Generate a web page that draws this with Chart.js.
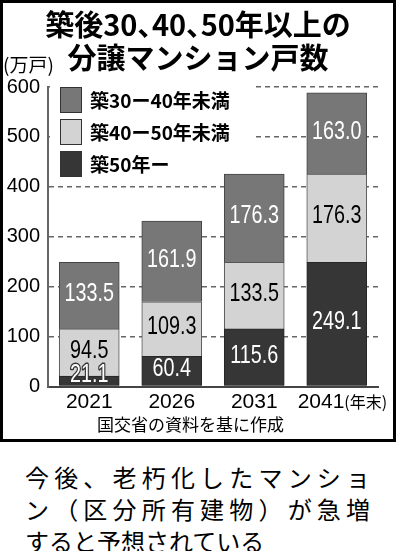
<!DOCTYPE html>
<html>
<head>
<meta charset="utf-8">
<script src="https://cdn.jsdelivr.net/npm/chart.js@4.4.0/dist/chart.umd.min.js"></script>
<style>
html,body{margin:0;padding:0;background:#fff;}
body{width:397px;height:551px;position:relative;overflow:hidden;font-family:"Noto Sans CJK JP",sans-serif;color:#000;}
#frame{position:absolute;left:0;top:0;width:396px;height:442px;box-sizing:border-box;border:3px solid #000;}
#wrap{position:absolute;left:0;top:0;width:390px;height:436px;}
#title{position:absolute;left:0;top:4px;width:390px;text-align:center;font-weight:700;font-size:29px;line-height:33px;white-space:nowrap;}
#title .p{font-feature-settings:"palt";}
#legend{position:absolute;left:47px;top:83px;width:202px;height:87px;background:#fff;}
.sw{position:absolute;left:10px;width:22px;height:26px;box-sizing:border-box;border:1px solid #333;}
.lt{position:absolute;left:40px;font-weight:700;font-size:19px;line-height:26px;white-space:nowrap;}
#caption{position:absolute;left:25px;top:461px;width:345px;font-size:24px;line-height:32px;}
#caption div{text-align:justify;text-align-last:justify;white-space:nowrap;}
#caption div.last{text-align-last:left;}
</style>
</head>
<body>
<div id="frame">
  <div id="wrap"><canvas id="chart"></canvas></div>
  <div id="title"></div>
  <div id="legend"></div>
</div>
<div id="caption">
  <div>今後、老朽化したマンショ</div>
  <div>ン（区分所有建物）が急増</div>
  <div class="last">すると予想されている</div>
</div>
<script>
/* ---------- DATA ---------- */
const years      = ['2021','2026','2031','2041'];
const over50     = [21.1, 60.4, 115.6, 249.1];   // 築50年ー
const age40to50  = [94.5, 109.3, 133.5, 176.3];  // 築40ー50年未満
const age30to40  = [133.5, 161.9, 176.3, 163.0]; // 築30ー40年未満
const yTicks     = [0,100,200,300,400,500,600];
const titleLines = ['築後30、40、50年以上の','分譲マンション戸数'];

const JP = '"Noto Sans CJK JP", sans-serif';
const NUM = '"Liberation Sans", Arial, sans-serif';

const $ = id => document.getElementById(id);

/* ---------- TITLE (commas set proportional like the print) ---------- */
$('title').innerHTML=titleLines.map(t=>t.replace(/、/g,'<span class="p">、</span>')).join('<br>');

/* ---------- DATASETS (bottom to top) ---------- */
const datasets = [
  {label:'築50年ー',      data:over50,    backgroundColor:'#363636', borderColor:'#262626', valueColor:'#fff'},
  {label:'築40ー50年未満', data:age40to50, backgroundColor:'#d3d3d3', borderColor:'#555',    valueColor:'#000'},
  {label:'築30ー40年未満', data:age30to40, backgroundColor:'#777777', borderColor:'#444',    valueColor:'#fff'}
].map(d=>({...d,borderWidth:1,barThickness:60}));

/* ---------- LEGEND (top item = top segment) ---------- */
$('legend').innerHTML=[...datasets].reverse().map((d,i)=>
  `<div class="sw" style="top:${1+i*32}px;background:${d.backgroundColor}"></div>`+
  `<div class="lt" style="top:${1+i*32}px">${d.label}</div>`).join('');

/* ---------- PLUGINS ---------- */
const valueLabels = {
  id:'valueLabels',
  afterDatasetsDraw(chart){
    const {ctx}=chart;
    ctx.save();
    ctx.font=`26px ${NUM}`;
    ctx.textAlign='center';ctx.textBaseline='middle';
    chart.data.datasets.forEach((ds,i)=>{
      chart.getDatasetMeta(i).data.forEach((bar,j)=>{
        const txt=ds.data[j].toFixed(1);
        const h=bar.base-bar.y;
        let y=(bar.y+bar.base)/2-2;
        ctx.save();
        if(h<22) y=bar.base-11;
        ctx.translate(bar.x,y);ctx.scale(0.76,1);   // condensed figures
        if(h<22){
          ctx.lineWidth=3;ctx.strokeStyle='#333';ctx.lineJoin='round';
          ctx.strokeText(txt,0,0);
        }
        ctx.fillStyle=ds.valueColor;
        ctx.fillText(txt,0,0);
        ctx.restore();
      });
    });
    ctx.restore();
  }
};

const extraText = {
  id:'extraText',
  afterDraw(chart){
    const {ctx,chartArea,scales:{x}}=chart;
    ctx.save();
    ctx.fillStyle='#000';ctx.textBaseline='middle';ctx.textAlign='left';
    ctx.font=`19px ${JP}`;
    ctx.fillText('(万戸)',0,chartArea.top-22);
    // (年末) after last year label
    ctx.font=`21px ${NUM}`;
    const last=years.length-1;
    const full=ctx.measureText(x.options.ticks.callback(years[last],last)).width;
    const yw=ctx.measureText(years[last]).width;
    const sx=x.getPixelForTick(last)-full/2+yw;
    ctx.font=`16px ${JP}`;
    ctx.fillText('(年末)',sx,x.top+3+12.6);
    ctx.restore();
  }
};

/* ---------- CHART ---------- */
new Chart($('chart').getContext('2d'),{
  type:'bar',
  data:{labels:years,datasets},
  options:{
    responsive:true,maintainAspectRatio:false,animation:false,
    layout:{padding:{left:0,right:15,top:84,bottom:0}},
    plugins:{
      legend:{display:false},
      tooltip:{enabled:false},
      subtitle:{display:true,position:'bottom',text:'国交省の資料を基に作成',color:'#000',
        font:{family:JP,size:17,lineHeight:1.2},padding:{top:0,bottom:4}}
    },
    scales:{
      x:{
        stacked:true,
        grid:{display:false,drawTicks:false},
        border:{display:true,color:'#444',width:2},
        ticks:{color:'#000',font:{family:NUM,size:21},padding:3,maxRotation:0,minRotation:0,autoSkip:false,
          callback:(v,i)=> i===years.length-1 ? years[i]+'\u2002\u2003' : years[i]},
        afterFit:s=>{s.height=28;}
      },
      y:{
        stacked:true,min:0,max:600,
        afterBuildTicks:s=>{s.ticks=yTicks.map(v=>({value:v}));},
        grid:{drawTicks:false,lineWidth:1.5,color:c=>c.tick&&c.tick.value===0?'rgba(0,0,0,0)':'#666'},
        border:{display:true,color:'#666',width:2,dash:[5,4]},
        ticks:{color:'#000',font:{family:NUM,size:20},padding:8},
        afterFit:s=>{s.width=45;}
      }
    }
  },
  plugins:[valueLabels,extraText]
});
</script>
</body>
</html>
